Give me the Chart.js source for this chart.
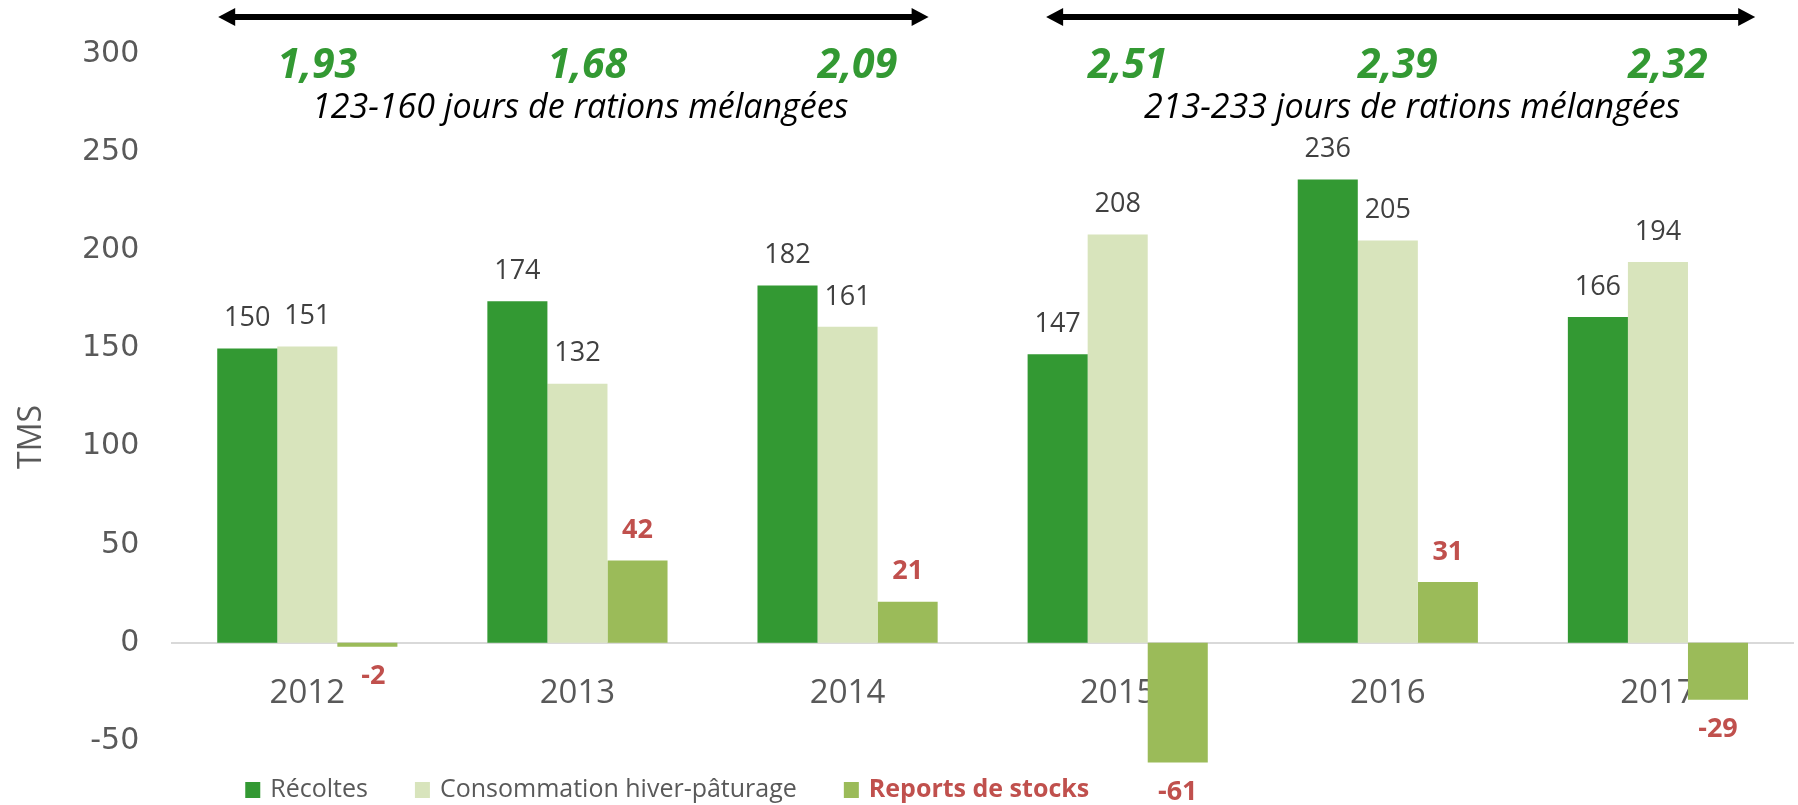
<!DOCTYPE html>
<html lang="fr">
<head>
<meta charset="utf-8">
<title>Récoltes et consommation (TMS)</title>
<script src="https://cdn.jsdelivr.net/npm/chart.js@4.4.1/dist/chart.umd.min.js"></script>
<style>
  html, body { margin:0; padding:0; background:#fff; }
  #wrap { position:relative; width:1798px; height:805px; }
</style>
</head>
<body>
<div id="wrap"><canvas id="chart" width="1798" height="805"></canvas></div>
<script>
// données
const annees = ['2012', '2013', '2014', '2015', '2016', '2017'];
const recoltes = [150, 174, 182, 147, 236, 166];
const consommation = [151, 132, 161, 208, 205, 194];
const reports = [-2, 42, 21, -61, 31, -29];
const ratios = [1.93, 1.68, 2.09, 2.51, 2.39, 2.32];
const periodes = ['123-160 jours de rations mélangées', '213-233 jours de rations mélangées'];
const yTicks = [-50, 0, 50, 100, 150, 200, 250, 300];

const VERT = '#339933';
const VERT_CLAIR = '#d8e4bc';
const VERT_OLIVE = '#9bbb59';
const ROUGE = '#c0504d';
const GRIS = '#595959';
const FONT = '"Open Sans", "Liberation Sans", sans-serif';

// étendue des flèches en unités de catégorie (début, fin, centre du texte)
const fleches = [
  { from: -0.33, to: 2.30, text: 1.01 },
  { from: 2.735, to: 5.36, text: 4.09 }
];

// étiquettes, flèches, titres et légende dessinés à la main
const annotations = {
  id: 'annotations',
  afterDatasetsDraw(chart) {
    const { ctx, scales: { x, y } } = chart;
    ctx.save();

    // valeurs au-dessus / au-dessous des barres
    chart.data.datasets.forEach((ds, i) => {
      const meta = chart.getDatasetMeta(i);
      meta.data.forEach((bar, j) => {
        const v = ds.data[j];
        const red = i === 2;
        ctx.font = (red ? 'bold ' : '') + '27px ' + FONT;
        ctx.fillStyle = red ? ROUGE : '#404040';
        ctx.textAlign = 'center';
        ctx.textBaseline = 'middle';
        const yy = v >= 0 ? bar.y - 30 : bar.y + 30;
        ctx.fillText(String(v), bar.x + (red && j === 0 ? 6 : 0), yy);
      });
    });

    // ratios verts
    ctx.font = 'italic bold 41px ' + FONT;
    ctx.fillStyle = VERT;
    ctx.textAlign = 'center';
    ctx.textBaseline = 'middle';
    ratios.forEach((r, j) => {
      ctx.fillText(r.toFixed(2).replace('.', ','), x.getPixelForValue(j) + 10, 66);
    });

    // flèches et périodes
    fleches.forEach((f, k) => {
      const x1 = x.getPixelForValue(f.from);
      const x2 = x.getPixelForValue(f.to);
      const yy = 17;
      ctx.strokeStyle = '#000';
      ctx.fillStyle = '#000';
      ctx.lineWidth = 6;
      ctx.beginPath();
      ctx.moveTo(x1 + 12, yy);
      ctx.lineTo(x2 - 12, yy);
      ctx.stroke();
      ctx.beginPath();
      ctx.moveTo(x1, yy); ctx.lineTo(x1 + 17, yy - 9); ctx.lineTo(x1 + 17, yy + 9); ctx.closePath();
      ctx.fill();
      ctx.beginPath();
      ctx.moveTo(x2, yy); ctx.lineTo(x2 - 17, yy - 9); ctx.lineTo(x2 - 17, yy + 9); ctx.closePath();
      ctx.fill();

      ctx.font = 'italic 34px ' + FONT;
      ctx.fillStyle = '#000';
      ctx.fillText(periodes[k], x.getPixelForValue(f.text), 108);
    });

    // titre de l'axe vertical
    ctx.save();
    ctx.translate(32, 437);
    ctx.rotate(-Math.PI / 2);
    ctx.font = '32px ' + FONT;
    ctx.fillStyle = GRIS;
    ctx.textAlign = 'center';
    ctx.textBaseline = 'middle';
    ctx.fillText('TMS', 0, 0);
    ctx.restore();

    // légende
    let lx = chart.chartArea.left + 73;
    const ly = 790;
    chart.data.datasets.forEach((ds, i) => {
      const bold = i === 2;
      ctx.fillStyle = ds.backgroundColor;
      ctx.fillRect(lx, ly - 8, 15, 16);
      lx += 25;
      ctx.font = (bold ? 'bold ' : '') + '25px ' + FONT;
      ctx.fillStyle = bold ? ROUGE : GRIS;
      ctx.textAlign = 'left';
      ctx.textBaseline = 'middle';
      ctx.fillText(ds.label, lx, ly);
      lx += ctx.measureText(ds.label).width + 47;
    });

    ctx.restore();
  }
};

new Chart(document.getElementById('chart'), {
  type: 'bar',
  data: {
    labels: annees,
    datasets: [
      { label: 'Récoltes', data: recoltes, backgroundColor: VERT },
      { label: 'Consommation hiver-pâturage', data: consommation, backgroundColor: VERT_CLAIR },
      { label: 'Reports de stocks', data: reports, backgroundColor: VERT_OLIVE, clip: false }
    ]
  },
  options: {
    responsive: false,
    animation: false,
    devicePixelRatio: 1,
    layout: { padding: { left: 49, right: 5, top: 54, bottom: 64 } },
    datasets: { bar: { categoryPercentage: 0.667, barPercentage: 1.0 } },
    plugins: { legend: { display: false }, tooltip: { enabled: false } },
    scales: {
      x: {
        position: { y: 0 },
        grid: { display: false, drawTicks: false },
        border: { display: true, color: '#d9d9d9', width: 2 },
        ticks: { color: GRIS, font: { family: FONT, size: 33 }, padding: 31 }
      },
      y: {
        min: -50,
        max: 300,
        afterBuildTicks: s => { s.ticks = yTicks.map(v => ({ value: v })); },
        grid: { display: false, drawTicks: false },
        border: { display: false },
        ticks: { color: GRIS, font: { family: '"DejaVu Sans", Verdana, sans-serif', size: 30 }, padding: 33 }
      }
    }
  },
  plugins: [annotations]
});
</script>
</body>
</html>
